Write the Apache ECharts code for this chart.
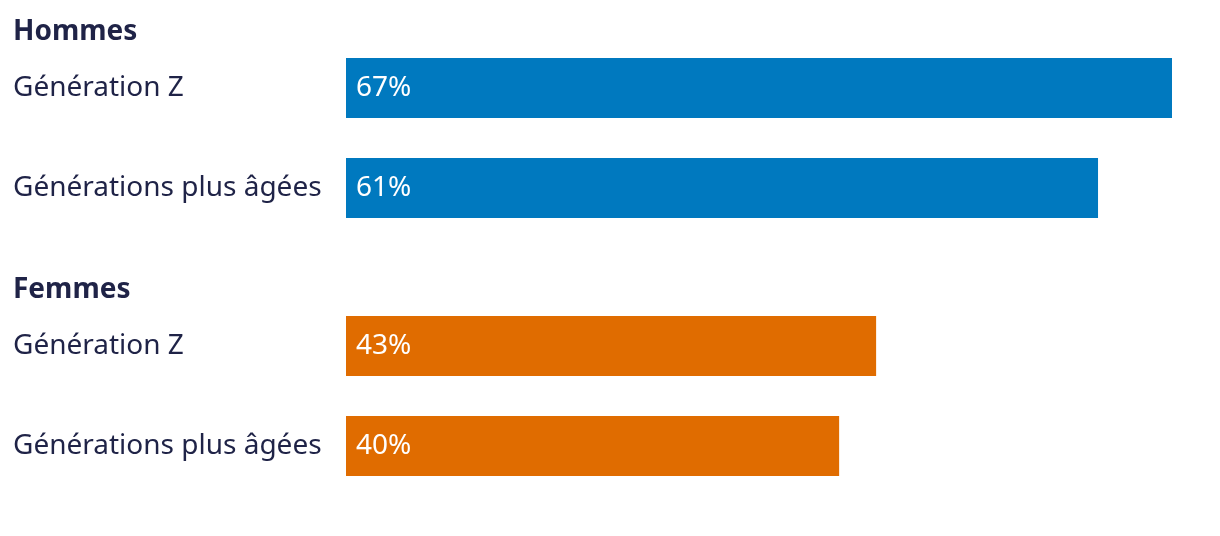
<!DOCTYPE html>
<html>
<head>
<meta charset="utf-8">
<script src="https://cdn.jsdelivr.net/npm/echarts@6/dist/echarts.min.js"></script>
<style>html,body{margin:0;padding:0;background:#fff}#c{width:1220px;height:536px}</style>
</head>
<body>
<div id="c"></div>
<script>
var groups = ['Hommes', 'Femmes'];
var categories = ['Génération Z', 'Générations plus âgées'];
var hommesValues = [67, 61];
var femmesValues = [43, 40];
var groupColors = ['#0079BF', '#E06C00'];
var xMax = 67;

var FONT = '"Noto Sans", "Open Sans", sans-serif';
var TEXT = '#1F2347';

var chart = echarts.init(document.getElementById('c'), null, {renderer: 'canvas'});
var grids = [
  {left: 346, right: 48, top: 38, height: 200},
  {left: 346, right: 48, top: 296, height: 200}
];
var data = [hommesValues, femmesValues];
var option = {
  animation: false,
  title: groups.map(function (g, i) {
    return {text: g, left: 13, top: i === 0 ? 18 : 276, padding: 0,
      textStyle: {fontFamily: FONT, fontSize: 28, fontWeight: 'bold', color: TEXT}};
  }),
  grid: grids,
  xAxis: grids.map(function (g, i) {
    return {type: 'value', gridIndex: i, min: 0, max: xMax, show: false};
  }),
  yAxis: grids.map(function (g, i) {
    return {type: 'category', gridIndex: i, data: categories, inverse: true,
      axisLine: {show: false}, axisTick: {show: false}, splitLine: {show: false},
      axisLabel: {align: 'left', margin: 333, fontFamily: FONT, fontSize: 28, color: TEXT,
        lineHeight: 28, padding: [4, 0, 0, 0]}};
  }),
  series: data.map(function (d, i) {
    return {type: 'bar', xAxisIndex: i, yAxisIndex: i, data: d, barWidth: 60,
      itemStyle: {color: groupColors[i]},
      label: {show: true, position: 'insideLeft', distance: 10, formatter: '{c}%',
        fontFamily: FONT, fontSize: 28, color: '#fff', lineHeight: 28, padding: [4, 0, 0, 0]}};
  })
};
chart.setOption(option);
</script>
</body>
</html>
